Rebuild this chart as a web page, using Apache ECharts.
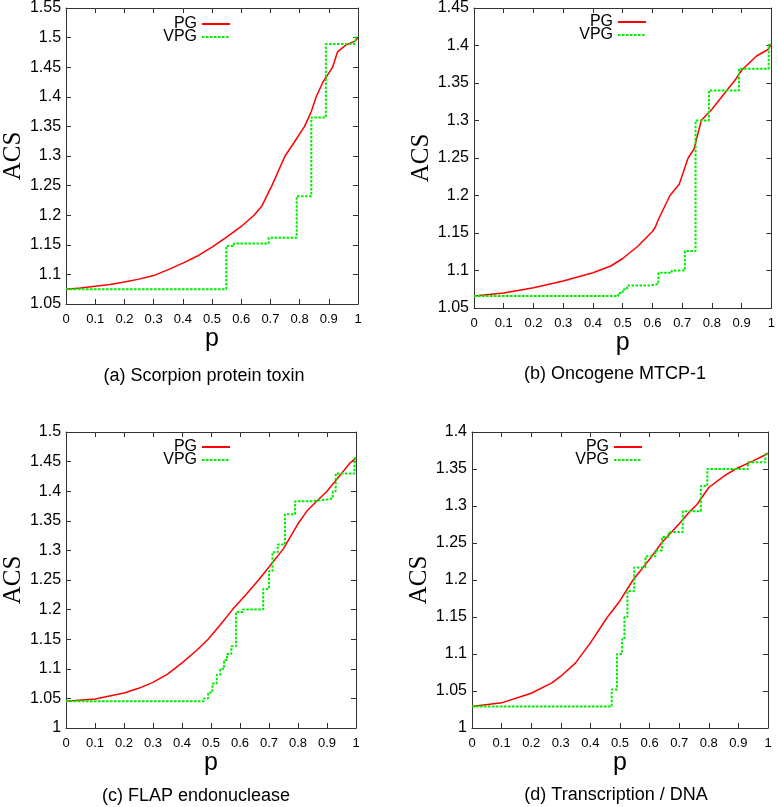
<!DOCTYPE html>
<html>
<head>
<meta charset="utf-8">
<script src="https://cdn.jsdelivr.net/npm/echarts@6/dist/echarts.min.js"></script>
<style>
html, body { margin: 0; padding: 0; background: #fff; }
#main { width: 778px; height: 807px; }
</style>
</head>
<body>
<div id="main"></div>
<script>
// 数据：[p, ACS]，VPG 为阶梯线（在 p 处跳到新值）
var pgA = [[0,1.075],[0.05,1.077],[0.1,1.08],[0.15,1.083],[0.2,1.087],[0.25,1.092],[0.3,1.098],[0.35,1.108],[0.4,1.119],[0.45,1.131],[0.5,1.146],[0.55,1.163],[0.6,1.181],[0.644,1.2],[0.67,1.215],[0.705,1.25],[0.75,1.3],[0.78,1.322],[0.817,1.35],[0.84,1.375],[0.857,1.4],[0.88,1.425],[0.913,1.45],[0.93,1.476],[0.96,1.488],[0.99,1.494],[1,1.5]];
var vpgA = [[0,1.075],[0.549,1.148],[0.575,1.152],[0.694,1.162],[0.79,1.232],[0.84,1.365],[0.89,1.489],[0.99,1.5],[1,1.5]];

var pgB = [[0,1.066],[0.1,1.07],[0.2,1.077],[0.3,1.086],[0.4,1.097],[0.46,1.106],[0.5,1.116],[0.55,1.132],[0.6,1.152],[0.61,1.158],[0.62,1.168],[0.659,1.2],[0.69,1.215],[0.72,1.25],[0.74,1.262],[0.764,1.3],[0.8,1.315],[0.85,1.34],[0.88,1.355],[0.9,1.367],[0.95,1.386],[0.99,1.395],[1,1.402]];
var vpgB = [[0,1.066],[0.485,1.07],[0.5,1.075],[0.515,1.08],[0.59,1.082],[0.62,1.097],[0.665,1.1],[0.709,1.126],[0.745,1.3],[0.79,1.34],[0.891,1.369],[0.991,1.401],[1,1.401]];

var pgC = [[0,1.045],[0.1,1.049],[0.2,1.059],[0.25,1.067],[0.3,1.077],[0.35,1.091],[0.4,1.11],[0.45,1.131],[0.49,1.15],[0.53,1.173],[0.574,1.2],[0.62,1.225],[0.664,1.25],[0.7,1.272],[0.75,1.303],[0.775,1.324],[0.8,1.345],[0.83,1.366],[0.86,1.381],[0.9,1.4],[0.95,1.43],[0.98,1.448],[1,1.456]];
var vpgC = [[0,1.045],[0.475,1.05],[0.49,1.06],[0.505,1.075],[0.52,1.09],[0.532,1.1],[0.545,1.115],[0.555,1.125],[0.57,1.138],[0.586,1.196],[0.61,1.2],[0.68,1.235],[0.7,1.265],[0.712,1.297],[0.73,1.31],[0.755,1.361],[0.79,1.383],[0.85,1.386],[0.9,1.388],[0.92,1.4],[0.93,1.43],[0.995,1.456],[1,1.456]];

var pgD = [[0,1.029],[0.1,1.034],[0.2,1.047],[0.27,1.061],[0.3,1.07],[0.35,1.088],[0.4,1.115],[0.456,1.149],[0.5,1.172],[0.544,1.2],[0.6,1.228],[0.64,1.25],[0.7,1.276],[0.73,1.29],[0.76,1.302],[0.8,1.325],[0.85,1.34],[0.89,1.35],[0.95,1.361],[1,1.371]];
var vpgD = [[0,1.029],[0.472,1.052],[0.49,1.1],[0.507,1.12],[0.515,1.15],[0.525,1.185],[0.548,1.217],[0.586,1.232],[0.62,1.24],[0.642,1.258],[0.664,1.265],[0.712,1.293],[0.773,1.327],[0.795,1.35],[0.932,1.359],[0.991,1.371],[1,1.371]];

var captions = ['(a) Scorpion protein toxin', '(b) Oncogene MTCP-1', '(c) FLAP endonuclease', '(d) Transcription / DNA'];
var yMins = [1.05, 1.05, 1.0, 1.0];
var yMaxs = [1.55, 1.45, 1.5, 1.4];
var pgList = [pgA, pgB, pgC, pgD];
var vpgList = [vpgA, vpgB, vpgC, vpgD];

// 每个子图的位置
var layout = [
    {left: 60, top: 8, width: 298, height: 296, capX: 204, capY: 376, legRight: 547, legTop: 16},
    {left: 474, top: 7, width: 301, height: 301, capX: 615, capY: 374, legRight: 131, legTop: 14},
    {left: 60, top: 432, width: 296, height: 296, capX: 196, capY: 796, legRight: 547, legTop: 439},
    {left: 472, top: 432, width: 296, height: 296, capX: 616, capY: 795, legRight: 135, legTop: 439}
];

var FONT = 'Liberation Sans';
var axisLine = {show: true, onZero: false, lineStyle: {color: '#333', width: 1}};
var axisTick = {show: true, inside: true, length: 5, lineStyle: {color: '#333'}};

var grids = [], xAxes = [], yAxes = [], series = [], legends = [], graphics = [];

for (var i = 0; i < 4; i++) {
    var l = layout[i];
    grids.push({left: l.left, top: l.top, width: l.width, height: l.height});
    // 下方 x 轴
    xAxes.push({
        type: 'value', gridIndex: i, position: 'bottom', min: 0, max: 1, interval: 0.1,
        axisLine: axisLine, axisTick: axisTick, splitLine: {show: false},
        axisLabel: {margin: 9, fontSize: 13, fontFamily: FONT, color: '#000'},
        name: 'p', nameLocation: 'middle', nameGap: 23,
        nameTextStyle: {fontSize: 25, fontFamily: FONT, color: '#000'}
    });
    // 上方镜像刻度
    xAxes.push({
        type: 'value', gridIndex: i, position: 'top', min: 0, max: 1, interval: 0.1,
        axisLine: axisLine, axisTick: axisTick, splitLine: {show: false},
        axisLabel: {show: false}
    });
    yAxes.push({
        type: 'value', gridIndex: i, position: 'left', min: yMins[i], max: yMaxs[i], interval: 0.05,
        axisLine: axisLine, axisTick: axisTick, splitLine: {show: false},
        axisLabel: {margin: 5, fontSize: 16, fontFamily: FONT, color: '#000'},
        name: 'ACS', nameLocation: 'middle', nameGap: 38,
        nameTextStyle: {fontSize: 25, fontFamily: 'Liberation Serif', color: '#000'}
    });
    yAxes.push({
        type: 'value', gridIndex: i, position: 'right', min: yMins[i], max: yMaxs[i], interval: 0.05,
        axisLine: axisLine, axisTick: axisTick, splitLine: {show: false},
        axisLabel: {show: false}
    });
    series.push({
        name: 'PG', type: 'line', xAxisIndex: 2 * i, yAxisIndex: 2 * i,
        data: pgList[i], symbol: 'none',
        lineStyle: {color: '#ff0000', width: 1.5},
        itemStyle: {color: '#ff0000'}
    });
    series.push({
        name: 'VPG', type: 'line', step: 'end', xAxisIndex: 2 * i, yAxisIndex: 2 * i,
        data: vpgList[i], symbol: 'none',
        lineStyle: {color: '#00ee00', width: 2, type: [2.5, 1.5]},
        itemStyle: {color: '#00ee00'}
    });
    legends.push({
        data: ['PG', 'VPG'], orient: 'vertical', align: 'right',
        right: l.legRight, top: l.legTop, padding: 0,
        itemWidth: 28, itemHeight: 8, itemGap: -3,
        itemStyle: {color: 'rgba(0,0,0,0)', borderWidth: 0},
        textStyle: {fontSize: 16, fontFamily: FONT, color: '#000'}
    });
    graphics.push({
        type: 'text', x: l.capX, y: l.capY,
        style: {text: captions[i], fontSize: 18, fontFamily: FONT, fill: '#000', align: 'center', verticalAlign: 'middle'}
    });
}

var chart = echarts.init(document.getElementById('main'));
chart.setOption({
    animation: false,
    grid: grids,
    xAxis: xAxes,
    yAxis: yAxes,
    legend: legends,
    series: series,
    graphic: graphics
});
</script>
</body>
</html>
